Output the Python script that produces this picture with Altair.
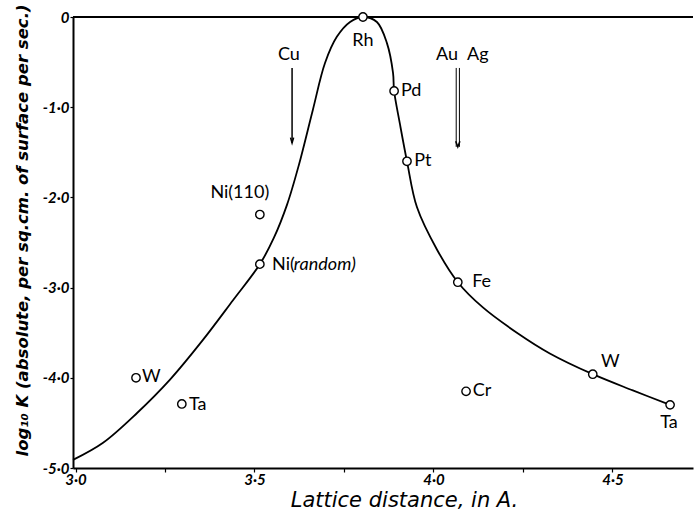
import altair as alt
import pandas as pd

# Smooth curve
curve_x = [2.993, 3.077, 3.172, 3.264, 3.356, 3.440, 3.515, 3.554, 3.591, 3.624, 3.663, 3.697,
           3.730, 3.767, 3.803, 3.842, 3.870, 3.887, 3.890, 3.906, 3.926, 3.954, 4.010, 4.068,
           4.138, 4.233, 4.325, 4.445, 4.557, 4.661]
curve_y = [-4.91, -4.72, -4.39, -4.02, -3.58, -3.14, -2.74, -2.45, -2.08, -1.64, -1.03, -0.51,
           -0.22, -0.055, 0.0, -0.055, -0.29, -0.62, -0.82, -1.18, -1.60, -2.11, -2.58, -2.94,
           -3.22, -3.50, -3.73, -3.96, -4.14, -4.30]

# Measured points (open circles)
pt_name = ["Rh", "Pd", "Pt", "Ni(110)", "Ni(random)", "Fe", "Cr", "W", "Ta", "W (left)", "Ta (left)"]
pt_x = [3.803, 3.890, 3.926, 3.515, 3.515, 4.068, 4.091, 4.445, 4.661, 3.169, 3.297]
pt_y = [0.0, -0.82, -1.60, -2.19, -2.74, -2.94, -4.15, -3.96, -4.30, -4.00, -4.29]

# Labels (left-anchored)
lab_l_text = ["Pd", "Pt", "Fe", "Cr", "W", "W", "Ta", "Ni("]
lab_l_x = [3.909, 3.946, 4.108, 4.110, 4.468, 3.186, 3.317, 3.549]
lab_l_y = [-0.82, -1.596, -2.938, -4.146, -3.825, -3.991, -4.302, -2.749]
# italic part
lab_i_text = ["random)"]
lab_i_x = [3.610]
lab_i_y = [-2.749]
# Labels (centred)
lab_c_text = ["Rh", "Ni(110)", "Ta", "Cu", "Au", "Ag"]
lab_c_x = [3.803, 3.459, 4.658, 3.596, 4.038, 4.124]
lab_c_y = [-0.266, -1.951, -4.501, -0.421, -0.421, -0.421]

# Arrows
arrow_name = ["Cu", "Au Ag"]
arrow_x = [3.605, 4.068]
arrow_y1 = [-0.565, -0.565]
arrow_y2 = [-1.397, -1.44]

x_ticks = [3.0, 3.25, 3.5, 3.75, 4.0, 4.25, 4.5]
y_ticks = [0, -1, -2, -3, -4, -5]

FONT = "Lato"
TFONT = "DejaVu Sans"

xs = alt.Scale(domain=[2.993, 4.725], nice=False, zero=False)
ys = alt.Scale(domain=[-5, 0], nice=False, zero=False)

curve = pd.DataFrame({"x": curve_x, "y": curve_y})
pts = pd.DataFrame({"name": pt_name, "x": pt_x, "y": pt_y})
labl = pd.DataFrame({"t": lab_l_text, "x": lab_l_x, "y": lab_l_y})
labi = pd.DataFrame({"t": lab_i_text, "x": lab_i_x, "y": lab_i_y})
labc = pd.DataFrame({"t": lab_c_text, "x": lab_c_x, "y": lab_c_y})
arr = pd.DataFrame({"name": arrow_name, "x": arrow_x, "y1": arrow_y1, "y2": arrow_y2})
cu = arr[arr["name"] == "Cu"]
auag = arr[arr["name"] == "Au Ag"]

x_enc = alt.X("x:Q", scale=xs, axis=alt.Axis(
    values=x_ticks, title="Lattice distance, in A.",
    labelExpr="(datum.value * 4) % 2 == 0 ? replace(format(datum.value, '.1f'), '.', '·') : ''",
    labelFont=FONT, labelFontSize=15, labelFontStyle="italic", labelFontWeight="bold",
    labelColor="black", labelPadding=0,
    titleFont=TFONT, titleFontSize=21, titleFontStyle="italic", titleFontWeight="normal",
    titleColor="black", titleX=331, titleY=32, titleBaseline="middle", titleAlign="center",
    domainColor="black", domainWidth=2, tickColor="black", tickSize=4, tickWidth=1.2,
    grid=False))
y_enc = alt.Y("y:Q", scale=ys, axis=alt.Axis(
    values=y_ticks, title="log₁₀ K (absolute, per sq.cm. of surface per sec.)",
    labelExpr="datum.value == 0 ? '0' : '-' + replace(format(abs(datum.value), '.1f'), '.', '·')",
    labelFont=FONT, labelFontSize=15, labelFontStyle="italic", labelFontWeight="bold",
    labelColor="black", labelPadding=1,
    titleFont=TFONT, titleFontSize=16.5, titleFontStyle="italic", titleFontWeight="bold",
    titleColor="black", titleX=-51, titleY=213, titleBaseline="middle", titleAlign="center",
    titleAngle=270, titleLimit=600,
    domainColor="black", domainWidth=2, tickColor="black", tickSize=3, tickWidth=1.2,
    grid=False))

line = alt.Chart(curve).mark_line(color="black", strokeWidth=1.8, interpolate="catmull-rom").encode(
    x=x_enc, y=y_enc)

top = alt.Chart(curve).mark_rule(color="black", strokeWidth=2).encode(
    y=alt.datum(0, scale=ys), x=alt.value(0), x2=alt.value(620))

points = alt.Chart(pts).mark_point(shape="circle", size=70, filled=True, fill="white",
                                   stroke="black", strokeWidth=1.4, opacity=1).encode(
    x=alt.X("x:Q", scale=xs), y=alt.Y("y:Q", scale=ys))

tl = alt.Chart(labl).mark_text(align="left", baseline="middle", font=FONT, fontSize=18,
                               color="black").encode(
    x=alt.X("x:Q", scale=xs), y=alt.Y("y:Q", scale=ys), text="t:N")
ti = alt.Chart(labi).mark_text(align="left", baseline="middle", font=FONT, fontSize=18,
                               fontStyle="italic", color="black").encode(
    x=alt.X("x:Q", scale=xs), y=alt.Y("y:Q", scale=ys), text="t:N")
tc = alt.Chart(labc).mark_text(align="center", baseline="middle", font=FONT, fontSize=18,
                               color="black").encode(
    x=alt.X("x:Q", scale=xs), y=alt.Y("y:Q", scale=ys), text="t:N")

cu_rule = alt.Chart(cu).mark_rule(color="black", strokeWidth=1.5).encode(
    x=alt.X("x:Q", scale=xs), y=alt.Y("y1:Q", scale=ys), y2="y2:Q")
head_path = "M-0.5,-1.7L0,0L0.5,-1.7"
cu_head = alt.Chart(cu).mark_point(shape=head_path, size=40, filled=False, stroke="black",
                                   strokeWidth=1.5, opacity=1).encode(
    x=alt.X("x:Q", scale=xs), y=alt.Y("y2:Q", scale=ys))

au_r1 = alt.Chart(auag).mark_rule(color="black", strokeWidth=1, xOffset=-1.6).encode(
    x=alt.X("x:Q", scale=xs), y=alt.Y("y1:Q", scale=ys), y2="y2:Q")
au_r2 = alt.Chart(auag).mark_rule(color="black", strokeWidth=1, xOffset=1.6).encode(
    x=alt.X("x:Q", scale=xs), y=alt.Y("y1:Q", scale=ys), y2="y2:Q")
au_head = alt.Chart(auag).mark_point(shape="M-0.6,-1.6L0,0L0.6,-1.6", size=50, filled=False,
                                     stroke="black", strokeWidth=1.5, opacity=1).encode(
    x=alt.X("x:Q", scale=xs), y=alt.Y("y2:Q", scale=ys))

chart = alt.layer(line, top, points, tl, ti, tc, cu_rule, cu_head, au_r1, au_r2, au_head).properties(
    width=620, height=451,
    autosize=alt.AutoSizeParams(type="none"),
    padding={"left": 73, "top": 17, "right": 2, "bottom": 42},
    background="white",
).configure_view(stroke=None)

chart.save("out.html", embed_options={"renderer": "svg", "actions": False})
